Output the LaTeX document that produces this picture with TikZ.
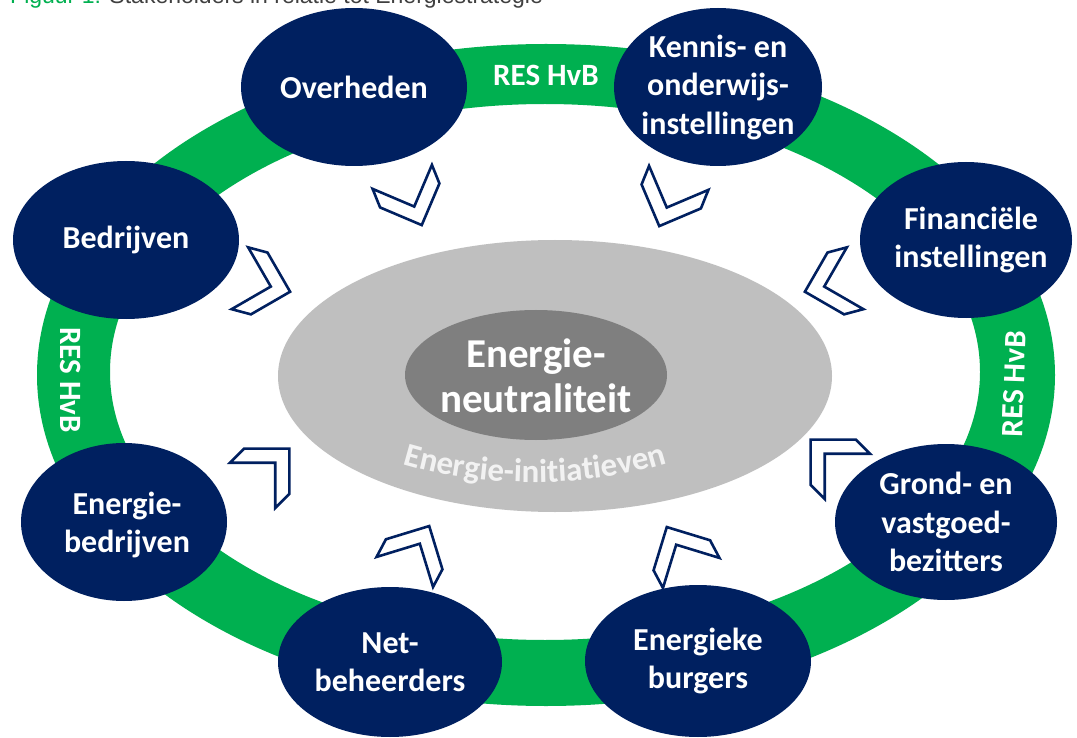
\documentclass[tikz,border=0pt]{standalone}
\usepackage{fontspec}
\setmainfont{Carlito}
\newfontfamily\titlefont{Liberation Sans}
\usetikzlibrary{shapes.geometric,decorations.text}
\definecolor{navy}{HTML}{002060}
\definecolor{ringgreen}{HTML}{00B050}
\definecolor{lgray}{HTML}{BFBFBF}
\definecolor{dgray}{HTML}{7F7F7F}
\definecolor{ltext}{HTML}{F2F2F2}
\definecolor{titlegray}{HTML}{404040}
\begin{document}
\begin{tikzpicture}[x=1pt,y=-1pt,
  stake/.style={ellipse, fill=navy, inner sep=0pt},
  stxt/.style={text=white, align=center, font=\bfseries\fontsize{32}{38.5}\selectfont, inner sep=0pt},
  ringtxt/.style={text=white, font=\bfseries\fontsize{31}{36}\selectfont, inner sep=0pt},
  chevstyle/.style={draw=navy, fill=white, line width=2.6pt, line join=miter},
  chevron/.pic={\filldraw[chevstyle] (26,0) -- (-6,-32) -- (-26,-32) -- (6,0) -- (-26,32) -- (-6,32) -- cycle;}
]
\useasboundingbox (0,0) rectangle (1077,738);
\fill[white] (0,0) rectangle (1077,738);
% title (cut off)
\node[anchor=base west, inner sep=0pt, text=titlegray, font=\titlefont\fontsize{23}{25}\selectfont] (title) at (10,3.5)
  {\textcolor{ringgreen}{Figuur 1:} Stakeholders in relatie tot Energiestrategie};
% ring
\fill[ringgreen, even odd rule] (546,375) ellipse [x radius=509, y radius=331]
  (545,372) ellipse [x radius=435, y radius=268];
\node[ringtxt] (rtop) at (546,75) {RES HvB};
\node[ringtxt, rotate=-90] (rleft) at (71,380) {RES HvB};
\node[ringtxt, rotate=88] (rright) at (1014,384) {RES HvB};
% centre
\node[ellipse, fill=lgray, minimum width=554pt, minimum height=272pt, inner sep=0pt] (ini) at (555,376) {};
\node[ellipse, fill=dgray, minimum width=262pt, minimum height=130pt, inner sep=0pt] (neu) at (536,375) {};
\node[text=white, align=center, font=\bfseries\fontsize{41}{45}\selectfont, inner sep=0pt] (neutxt) at ([yshift=-1pt]neu.center) {Energie-\\neutraliteit};
\path[decorate, decoration={text along path, text align=center,
  text={|\bfseries\fontsize{33}{36}\selectfont\color{ltext}|Energie-initiatieven}}]
  (390,460) .. controls (478,490) and (592,490) .. (680,459);
% stakeholders
\node[stake, minimum width=226pt, minimum height=158pt] (ov) at (354,87) {};
\node[stxt] at (ov) {Overheden};
\node[stake, minimum width=208pt, minimum height=158pt] (ke) at (718,87) {};
\node[stxt] at (ke) {Kennis- en\\onderwijs-\\instellingen};
\node[stake, minimum width=226pt, minimum height=158pt] (be) at (126,240) {};
\node[stxt] at (be) {Bedrijven};
\node[stake, minimum width=212pt, minimum height=156pt] (fi) at (966,240) {};
\node[stxt] at ([xshift=5pt]fi.center) {Financiële\\instellingen};
\node[stake, minimum width=206pt, minimum height=158pt] (eb) at (124,522) {};
\node[stxt] at ([xshift=3pt,yshift=-3pt]eb.center) {Energie-\\bedrijven};
\node[stake, minimum width=222pt, minimum height=156pt] (gr) at (946,522) {};
\node[stxt] at (gr) {Grond- en\\vastgoed-\\bezitters};
\node[stake, minimum width=224pt, minimum height=150pt] (nb) at (390,662) {};
\node[stxt] at (nb) {Net-\\beheerders};
\node[stake, minimum width=226pt, minimum height=152pt] (bu) at (698,661) {};
\node[stxt] at (bu) {Energieke\\burgers};
% chevrons
\pic[rotate=-68] at (412,201) {chevron};
\pic[rotate=-112] at (669,202) {chevron};
\pic[rotate=-15] at (265,285) {chevron};
\pic[rotate=195] at (830,285) {chevron};
\pic[rotate=45] at (271,467) {chevron};
\pic[rotate=135] at (829,458) {chevron};
\pic[rotate=62] at (417,549) {chevron};
\pic[rotate=118] at (679,550) {chevron};
\end{tikzpicture}
\end{document}
